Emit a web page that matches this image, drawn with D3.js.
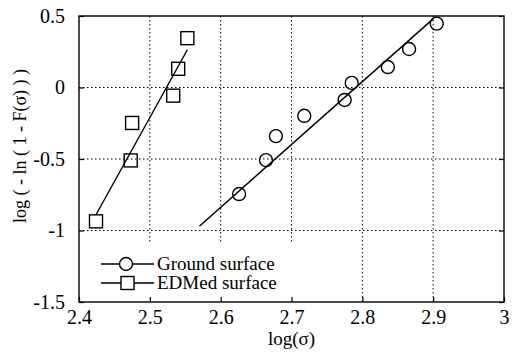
<!DOCTYPE html>
<html><head><meta charset="utf-8">
<script src="https://cdn.jsdelivr.net/npm/d3@7"></script>
<style>body{margin:0;background:#fff}svg{display:block}
svg text{font-family:"Liberation Serif","Times New Roman","DejaVu Serif",serif !important;fill:#000}</style>
</head><body>
<script>
const xTicks=[2.4,2.5,2.6,2.7,2.8,2.9,3];
const xTickLabels=["2.4","2.5","2.6","2.7","2.8","2.9","3"];
const yTicks=[0.5,0,-0.5,-1,-1.5];
const yTickLabels=["0.5","0","-0.5","-1","-1.5"];
const groundX=[2.626,2.664,2.678,2.718,2.775,2.785,2.836,2.866,2.905];
const groundY=[-0.745,-0.508,-0.34,-0.198,-0.087,0.032,0.143,0.269,0.447];
const edmX=[2.424,2.473,2.475,2.533,2.540,2.553];
const edmY=[-0.936,-0.51,-0.248,-0.057,0.131,0.345];
const groundFitX=[2.570,2.900];
const groundFitY=[-0.97,0.48];
const edmFitX=[2.424,2.553];
const edmFitY=[-0.89,0.264];
const legendLabels=["Ground surface","EDMed surface"];

const W=512,H=357;
const svg=d3.select("body").append("svg").attr("width",W).attr("height",H);
const x=d3.scaleLinear().domain([2.4,3]).range([79,504]);
const y=d3.scaleLinear().domain([-1.5,0.5]).range([302,16]);

const g=svg.append("g");
[2.5,2.6,2.7,2.8,2.9].forEach(v=>g.append("line").attr("x1",x(v)).attr("x2",x(v)).attr("y1",y(0.5)).attr("y2",y(-1.5))
 .attr("stroke","#000").attr("stroke-width",1).attr("stroke-dasharray","1.5,2.5"));
[0,-0.5,-1].forEach(v=>g.append("line").attr("x1",x(2.4)).attr("x2",x(3)).attr("y1",y(v)).attr("y2",y(v))
 .attr("stroke","#000").attr("stroke-width",1).attr("stroke-dasharray","1.5,2.5"));

// legend background box (no border) hides grid beneath
svg.append("rect").attr("x",x(2.4)+1).attr("y",242).attr("width",215).attr("height",y(-1.5)-242).attr("fill","#fff");

svg.append("rect").attr("x",x(2.4)).attr("y",y(0.5)).attr("width",x(3)-x(2.4)).attr("height",y(-1.5)-y(0.5))
 .attr("fill","none").attr("stroke","#000").attr("stroke-width",1.4);

const xAxis=svg.append("g").attr("transform",`translate(0,${y(-1.5)})`)
 .call(d3.axisBottom(x).tickValues(xTicks).tickFormat((d,i)=>xTickLabels[i]).tickSize(-5).tickPadding(8));
const yAxis=svg.append("g").attr("transform",`translate(${x(2.4)},0)`)
 .call(d3.axisLeft(y).tickValues(yTicks).tickFormat((d,i)=>yTickLabels[i]).tickSize(-5).tickPadding(14));
const yAxisR=svg.append("g").attr("transform",`translate(${x(3)},0)`)
 .call(d3.axisRight(y).tickValues(yTicks).tickFormat("").tickSize(-5));
[xAxis,yAxis,yAxisR].forEach(a=>{a.select(".domain").remove();a.selectAll("line").attr("stroke","#000").attr("stroke-width",1.2);
 a.selectAll("text").attr("font-size",20);});

const line=d3.line().x(d=>x(d[0])).y(d=>y(d[1]));
svg.append("path").attr("d",line(d3.zip(edmFitX,edmFitY))).attr("stroke","#000").attr("stroke-width",1.4).attr("fill","none");
svg.append("path").attr("d",line(d3.zip(groundFitX,groundFitY))).attr("stroke","#000").attr("stroke-width",1.4).attr("fill","none");

svg.selectAll("circle.g").data(d3.zip(groundX,groundY)).join("circle").attr("class","g")
 .attr("cx",d=>x(d[0])).attr("cy",d=>y(d[1])).attr("r",6.5).attr("fill","none").attr("stroke","#000").attr("stroke-width",1.4);
svg.selectAll("rect.e").data(d3.zip(edmX,edmY)).join("rect").attr("class","e")
 .attr("x",d=>x(d[0])-6.5).attr("y",d=>y(d[1])-6.5).attr("width",13).attr("height",13).attr("fill","none").attr("stroke","#000").attr("stroke-width",1.4);

const lg=svg.append("g");
[0,1].forEach(i=>{
 const ly=264+i*19;
 lg.append("line").attr("x1",101).attr("x2",154).attr("y1",ly).attr("y2",ly).attr("stroke","#000").attr("stroke-width",1.3);
 if(i===0) lg.append("circle").attr("cx",126).attr("cy",ly).attr("r",6.5).attr("fill","#fff").attr("stroke","#000").attr("stroke-width",1.4);
 else lg.append("rect").attr("x",121).attr("y",ly-6.5).attr("width",13).attr("height",13).attr("fill","#fff").attr("stroke","#000").attr("stroke-width",1.4);
 lg.append("text").attr("x",157).attr("y",ly+5.5).attr("font-size",19).text(legendLabels[i]);
});

svg.append("text").attr("x",(x(2.4)+x(3))/2).attr("y",345).attr("text-anchor","middle")
 .attr("font-size",19).text("log(σ)");
svg.append("text").attr("transform","translate(26,146) rotate(-90)").attr("text-anchor","middle")
 .attr("font-size",18).text("log ( - ln ( 1 - F(σ) ) )");
</script>
</body></html>
